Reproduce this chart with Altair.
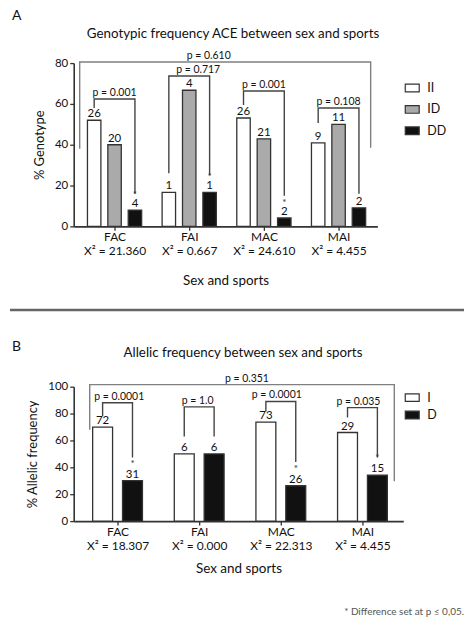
import json
import altair as alt
import pandas as pd

FONT = "Lato"

# ---------------- data: panel A (genotypes) ----------------
groups = ["FAC", "FAI", "MAC", "MAI"]
chi2_A = ["X\u00b2 = 21.360", "X\u00b2 = 0.667", "X\u00b2 = 24.610", "X\u00b2 = 4.455"]
genotypes = ["II", "ID", "DD"]
pct_II = [52.0, 16.7, 53.1, 40.9]
pct_ID = [40.0, 66.7, 42.9, 50.0]
pct_DD = [8.0, 16.7, 4.1, 9.1]
n_II = [26, 1, 26, 9]
n_ID = [20, 4, 21, 11]
n_DD = [4, 1, 2, 2]
star_DD = [True, True, True, False]
p_A = ["p = 0.001", "p = 0.717", "p = 0.001", "p = 0.108"]
brA_top = [62.4, 73.7, 66.3, 58.0]
brA_left_end = [58.0, 26.0, 59.5, 50.7]
brA_right_end = [16.0, 25.0, 15.0, 16.0]
pA_all = "p = 0.610"
brA_all = [38.0, 80.5, 38.5]  # left end, top, right end

# ---------------- data: panel B (alleles) ----------------
chi2_B = ["X\u00b2 = 18.307", "X\u00b2 = 0.000", "X\u00b2 = 22.313", "X\u00b2 = 4.455"]
alleles = ["I", "D"]
pct_I = [69.9, 50.0, 73.7, 65.9]
pct_D = [30.1, 50.0, 26.3, 34.1]
n_I = [72, 6, 73, 29]
n_D = [31, 6, 26, 15]
star_D = [True, False, True, True]
p_B = ["p = 0.0001", "p = 1.0", "p = 0.0001", "p = 0.035"]
brB_top = [88.0, 85.0, 89.0, 84.4]
brB_left_end = [78.0, 63.0, 81.5, 77.0]
brB_right_end = [47.4, 63.0, 44.0, 47.4]
pB_all = "p = 0.351"
brB_all = [68.0, 101.5, 29.6]

title_A = "Genotypic frequency ACE between sex and sports"
title_B = "Allelic frequency between sex and sports"
footnote = "* Difference set at p \u2264 0,05."

# ---------------- layout helpers ----------------
offA = {"II": -0.273, "ID": 0.0, "DD": 0.273}
halfA = 0.09
offB = {"I": -0.183, "D": 0.183}
halfB = 0.122
AXIS_C = "#333333"
BR_C = "#444444"
BIG_C = "#808080"
TXT = "#111111"


def bars_df(cats, pcts, ns, stars, off, half):
    rows = []
    for c, pc, nn, st in zip(cats, pcts, ns, stars):
        for i in range(len(groups)):
            xc = i + off[c]
            rows.append(dict(cat=c, grp=groups[i], xc=xc, xl=xc - half, xr=xc + half,
                             pct=pc[i], n=str(nn[i]), star=st[i]))
    return pd.DataFrame(rows)


dfA = bars_df(genotypes, [pct_II, pct_ID, pct_DD], [n_II, n_ID, n_DD],
              [[False] * 4, [False] * 4, star_DD], offA, halfA)
dfB = bars_df(alleles, [pct_I, pct_D], [n_I, n_D], [[False] * 4, star_D], offB, halfB)


def brackets_df(left_off, right_off, tops, lends, rends, pl, big, big_p, big_l, big_r,
                big_shift, shifts):
    rows, labels = [], []
    for i in range(len(groups)):
        xl, xr = i + left_off, i + right_off
        pts = [(xl, lends[i]), (xl, tops[i]), (xr, tops[i]), (xr, rends[i])]
        for k, (x, y) in enumerate(pts):
            rows.append(dict(bid="b%d" % i, kind="small", seq=k, x=x, y=y))
        labels.append(dict(kind="small", x=(xl + xr) / 2 + shifts[i], y=tops[i], p=pl[i]))
    pts = [(big_l, big[0]), (big_l, big[1]), (big_r, big[1]), (big_r, big[2])]
    for k, (x, y) in enumerate(pts):
        rows.append(dict(bid="big", kind="big", seq=k, x=x, y=y))
    labels.append(dict(kind="big", x=(big_l + big_r) / 2 + big_shift, y=big[1], p=big_p))
    return pd.DataFrame(rows), pd.DataFrame(labels)


brA, lblA = brackets_df(offA["II"], offA["DD"], brA_top, brA_left_end, brA_right_end,
                        p_A, brA_all, pA_all, -0.467, 3.43, -0.22, [0, 0.12, 0, 0])
brB, lblB = brackets_df(offB["I"], offB["D"], brB_top, brB_left_end, brB_right_end,
                        p_B, brB_all, pB_all, -0.341, 3.39, 0.06, [0.02, -0.02, -0.05, -0.05])


def label_expr(names, chis):
    arr = [[a, b] for a, b in zip(names, chis)]
    return json.dumps(arr, ensure_ascii=False) + "[datum.value]"


LEG_SYM = "M-1,-0.55H1V0.55H-1Z"


def txt(text, x, y, size, align="left", baseline="top", color=TXT):
    return alt.Chart(pd.DataFrame({"t": [text]})).mark_text(
        align=align, baseline=baseline, fontSize=size, color=color).encode(
        x=alt.value(x), y=alt.value(y), text="t:N")


def panel(df, br, lbl, cats, colors, xdom, ydom, yvals, ytitle, chis, title, title_xy,
          letter, letter_y, legend_x, legend_y, legend_rowpad, width, height, star_dy, xlh,
          xtitle_pad):
    xs = alt.Scale(domain=xdom, nice=False, zero=False)
    ys = alt.Scale(domain=ydom, nice=False)
    xaxis = alt.Axis(values=[0, 1, 2, 3], tickCount=4, labelExpr=label_expr(groups, chis),
                     grid=False, ticks=True, tickSize=4, tickColor=AXIS_C, domainColor=AXIS_C,
                     domainWidth=1.6, tickWidth=1.3, labelFontSize=12, labelLineHeight=xlh,
                     labelPadding=1, labelOverlap=False, labelFlush=False, labelColor=TXT,
                     titleFontSize=13.5, titleFontWeight="normal", titlePadding=xtitle_pad,
                     titleColor=TXT)
    yaxis = alt.Axis(values=yvals, tickCount=len(yvals), grid=False, tickSize=4,
                     tickColor=AXIS_C, tickWidth=1.3,
                     domainColor=AXIS_C, domainWidth=1.6, labelFontSize=11.5, labelColor=TXT,
                     labelPadding=2, labelOverlap=False, labelFlush=False,
                     titleFontSize=13, titleFontWeight="normal", titlePadding=8, titleColor=TXT)
    legend = alt.Legend(title=None, orient="none", legendX=legend_x, legendY=legend_y,
                        symbolType=LEG_SYM, symbolSize=196, symbolStrokeColor=AXIS_C,
                        symbolStrokeWidth=1.2, labelFontSize=12.5, labelOffset=7,
                        rowPadding=legend_rowpad, padding=0, labelColor=TXT)
    fill = alt.Fill("cat:N", scale=alt.Scale(domain=cats, range=colors), legend=legend)

    bars = alt.Chart(df).mark_rect(stroke=AXIS_C, strokeWidth=1.3).encode(
        x=alt.X("xl:Q", scale=xs, axis=xaxis, title="Sex and sports"),
        x2="xr:Q",
        y=alt.Y("pct:Q", scale=ys, axis=yaxis, title=ytitle),
        y2=alt.datum(0),
        fill=fill,
    )
    counts = alt.Chart(df).mark_text(baseline="alphabetic", dy=-3, fontSize=11.5,
                                     color=TXT).encode(
        x=alt.X("xc:Q", scale=xs), y=alt.Y("pct:Q", scale=ys), text="n:N")
    stars = alt.Chart(df).transform_filter("datum.star").mark_text(
        text="*", baseline="alphabetic", dy=star_dy, fontSize=10, color="#333").encode(
        x=alt.X("xc:Q", scale=xs), y=alt.Y("pct:Q", scale=ys))
    lines = alt.Chart(br).mark_line(strokeWidth=1.4, interpolate="linear").encode(
        x=alt.X("x:Q", scale=xs), y=alt.Y("y:Q", scale=ys),
        detail="bid:N", order="seq:Q",
        color=alt.Color("kind:N", scale=alt.Scale(domain=["small", "big"], range=[BR_C, BIG_C]),
                        legend=None))
    plabels = alt.Chart(lbl).mark_text(baseline="alphabetic", dy=-3, fontSize=10.5,
                                       color=TXT).encode(
        x=alt.X("x:Q", scale=xs), y=alt.Y("y:Q", scale=ys), text="p:N")
    title_t = txt(title, title_xy[0], title_xy[1], 13.4, align="center", baseline="middle")
    letter_t = txt(letter, -62, letter_y, 14)
    return [bars, lines, counts, stars, plabels, title_t, letter_t]


# plot A: origin at page (72, 62); plot B: origin at page (72, 387)
layersA = panel(dfA, brA, lblA, genotypes, ["#ffffff", "#aaaaaa", "#111111"],
                [-0.547, 3.52], [0, 80], [0, 20, 40, 60, 80], "% Genotype", chi2_A,
                title_A, (232 - 72, 33 - 62), "A", -54, 332, 17, 6.5, 305, 164, -12, 14, 17)
layersB = panel(dfB, brB, lblB, alleles, ["#ffffff", "#111111"],
                [-0.537, 3.5], [0, 100], [0, 20, 40, 60, 80, 100], "% Allelic frequency", chi2_B,
                title_B, (242 - 72, 353 - 387), "B", 340 - 387, 332, 3, 2.5, 331, 135, -14, 15, 10)

sep = alt.Chart(pd.DataFrame({"t": [0]})).mark_rule(color="#666666", strokeWidth=2.5).encode(
    x=alt.value(-64), x2=alt.value(392), y=alt.value(310 - 387))
foot = txt(footnote, 392, 613 - 387, 10, align="right", baseline="middle", color="#555555")

pA = alt.layer(*layersA).resolve_scale(color="independent", fill="independent").properties(
    width=305, height=164)
pB = alt.layer(*layersB, sep, foot).resolve_scale(color="independent", fill="independent").properties(
    width=331, height=135)

chart = alt.vconcat(pA, pB, spacing=161, bounds="flush").properties(
    padding={"left": 0, "top": 0, "right": 0, "bottom": 0}
).configure(font=FONT).configure_view(stroke=None)

chart.save("out.html", embed_options={"renderer": "svg", "actions": False})
